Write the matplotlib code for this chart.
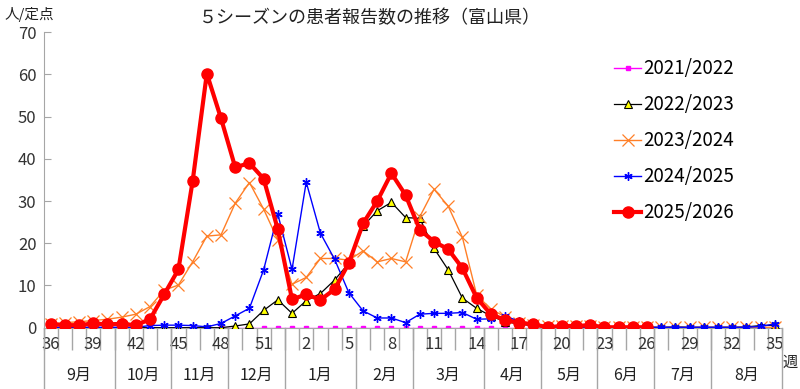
import matplotlib
matplotlib.use("Agg")
import matplotlib.pyplot as plt
import matplotlib.transforms as mtransforms
import numpy as np

plt.rcParams['font.family'] = ['Noto Sans CJK JP', 'DejaVu Sans']

# weeks 36..52 then 1..35
weeks = list(range(36, 53)) + list(range(1, 36))

months = ['9月', '10月', '11月', '12月', '1月', '2月', '3月', '4月',
          '5月', '6月', '7月', '8月']
month_weeks = [5, 4, 4, 4, 5, 4, 5, 4, 4, 4, 4, 5]

s2021 = [0.0] * 52

s2022 = [0, 0, 0, 0, 0, 0, 0, 0, 0, 0, 0, 0, 0, 0.4, 0.9, 4.1, 6.6,
         3.4, 6.4, 8.1, 11.3, 15.3, 24.0, 27.7, 29.7, 26.1, 25.9, 18.8, 13.7,
         7.0, 4.6, 2.8, 1.4, 0.9, 0.4,
         0.2, 0.1, 0.2, 0.1, 0.1, 0.2, 0.1, 0.1, 0.1, 0.2, 0.1, 0.1, 0.1,
         0.1, 0.2, 0.5, 0.6]

s2023 = [0.8, 1.2, 1.4, 1.7, 2.0, 2.5, 3.2, 5.0, 8.9, 10.1, 15.6, 21.7,
         22.0, 29.5, 34.4, 28.1, 20.8,
         10.3, 11.9, 16.4, 16.4, 16.0, 18.2, 15.6, 16.4, 15.6, 26.3, 32.8,
         28.8, 21.4, 7.8, 4.4, 2.6, 1.2,
         0.6, 0.4, 0.3, 0.3, 0.3, 0.2, 0.2, 0.2, 0.2, 0.1, 0.1, 0.1, 0.1,
         0.1, 0.1, 0.1, 0.1, 0.1]

s2024 = [0.1, 0.1, 0.1, 0.1, 0.1, 0.1, 0.1, 0.5, 0.6, 0.6, 0.5, 0.2,
         1.0, 2.8, 4.6, 13.7, 26.9,
         13.8, 34.5, 22.4, 16.2, 8.3, 4.0, 2.3, 2.3, 1.2, 3.2, 3.4, 3.4,
         3.6, 2.0, 2.1, 2.8, 1.5,
         0.6, 0.2, 0.1, 0.1, 0.1, 0.1, 0.1, 0.1, 0.1, 0.1, 0.1, 0.1, 0.1,
         0.1, 0.1, 0.1, 0.3, 0.9]

s2025 = [0.9, 0.6, 0.6, 1.0, 0.8, 0.9, 0.6, 2.0, 7.9, 13.8, 34.7, 60.2,
         49.6, 38.0, 39.0, 35.3, 23.3,
         6.7, 7.9, 6.6, 9.1, 15.3, 24.7, 30.0, 36.6, 31.4, 23.2, 20.4, 18.6,
         14.1, 7.1, 3.2, 1.8, 1.2, 0.8, 0.1, 0.4, 0.4, 0.6, 0.1, 0.1, 0.1,
         0.1]

fig = plt.figure(figsize=(8, 3.89), dpi=100)
ax = fig.add_axes([0.0544, 0.1576, 0.923, 0.7594])

x = np.arange(len(weeks))
gray = '#a6a6a6'
ax.plot(x, s2021, color='#FF00FF', lw=1, marker='s', ms=3.5,
        label='2021/2022', zorder=2)
ax.plot(x, s2022, color='black', lw=0.9, marker='^', ms=6,
        mfc='#FFFF00', mec='black', mew=0.8, label='2022/2023', zorder=3)
ax.plot(x, s2023, color='#FF7F27', lw=1, marker='x', ms=9, mew=0.9,
        label='2023/2024', zorder=4)
ax.plot(x, s2024, color='#0000FF', lw=1, marker=(6, 2, 0), ms=6, mew=1,
        label='2024/2025', zorder=5)
ax.plot(np.arange(len(s2025)), s2025, color='#FF0000', lw=3, marker='o',
        ms=8, label='2025/2026', zorder=6)

ax.set_xlim(-0.5, len(weeks) - 0.5)
ax.set_ylim(0, 70)
ax.set_yticks(range(0, 71, 10))
ax.tick_params(axis='y', direction='in', length=5, color=gray,
               labelsize=12, labelcolor='#333333', pad=5)

# category boundary ticks, week labels as minor ticks
ax.set_xticks(np.arange(-0.5, len(weeks), 1))
ax.set_xticklabels([])
ax.tick_params(axis='x', which='major', direction='out', length=16,
               color=gray, width=1)
ax.set_xticks(x[::3], minor=True)
ax.set_xticklabels([str(w) for w in weeks[::3]], minor=True)
ax.tick_params(axis='x', which='minor', length=0, labelsize=12,
               labelcolor='#333333', pad=6)

for side in ['top', 'right']:
    ax.spines[side].set_visible(False)
ax.spines['left'].set_color(gray)
ax.spines['bottom'].set_color(gray)

# month separators and labels
trans = mtransforms.blended_transform_factory(ax.transData, ax.transAxes)
edges = np.concatenate([[0], np.cumsum(month_weeks)]) - 0.5
for e in edges:
    ax.plot([e, e], [0, -0.21], transform=trans, color=gray, lw=1,
            clip_on=False)
for i, m in enumerate(months):
    ax.text((edges[i] + edges[i + 1]) / 2, -0.16, m, transform=trans,
            ha='center', va='center', fontsize=11.5, color='#222222')

ax.legend(loc='upper left', bbox_to_anchor=(0.747, 0.893),
          bbox_transform=fig.transFigure, frameon=False, fontsize=13.5,
          handlelength=1.4, handletextpad=0.12, labelspacing=0.8)

fig.text(370 / 800, 1 - 18 / 389, '５シーズンの患者報告数の推移（富山県）',
         ha='center', va='center', fontsize=13, color='#222222')
fig.text(5 / 800, 1 - 15 / 389, '人/定点', ha='left', va='center',
         fontsize=10.5, color='#222222')
fig.text(790 / 800, 1 - 362 / 389, '週', ha='center', va='center',
         fontsize=11, color='#222222')

fig.savefig('out.png', dpi=100)
